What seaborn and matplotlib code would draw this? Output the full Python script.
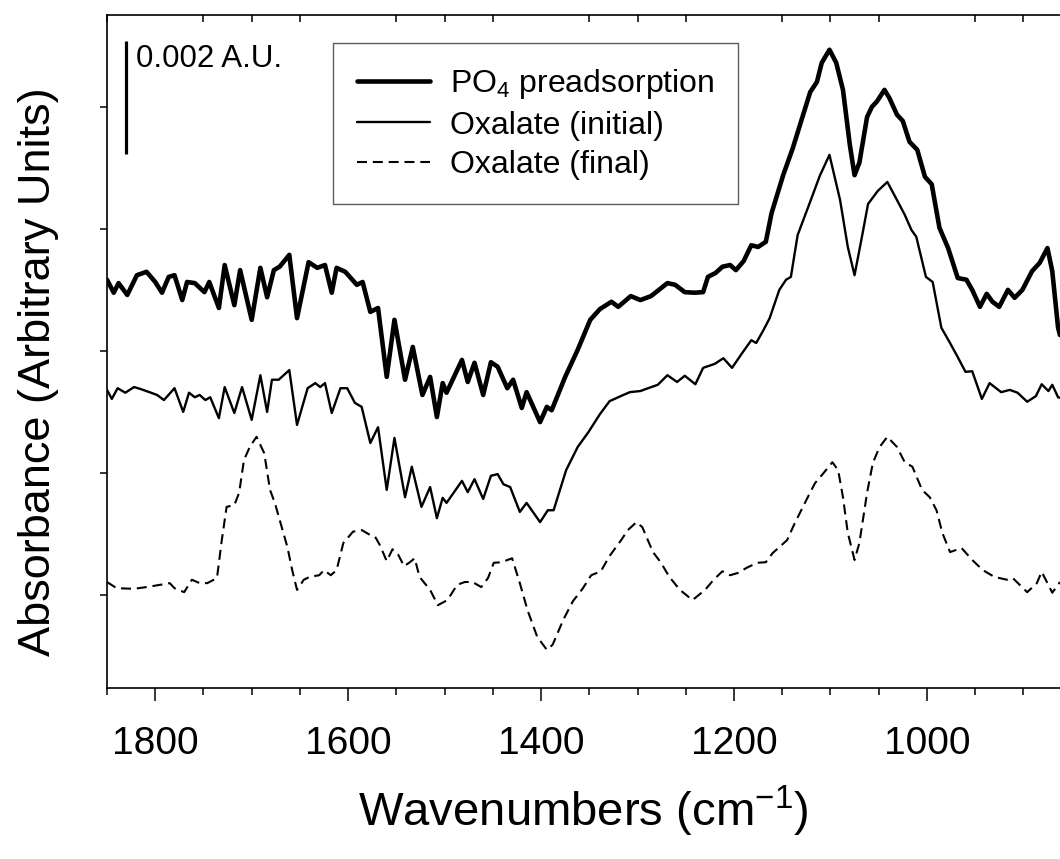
import numpy as np
import pandas as pd
import matplotlib
matplotlib.use("Agg")
import matplotlib.pyplot as plt
from matplotlib import font_manager
from matplotlib.ticker import MultipleLocator, FixedLocator, NullFormatter
import seaborn as sns

# ---------------- data (wavenumber in cm-1, absorbance in mAU) ----------------
po4_wn = [1850, 1843, 1838, 1829, 1819, 1809, 1800, 1793, 1786, 1780, 1772, 1767, 1759, 1749, 1744,
          1734, 1728, 1718, 1712, 1700, 1691, 1684, 1677, 1671, 1661, 1653, 1641, 1632, 1624, 1617,
          1612, 1603, 1591, 1585, 1577, 1569, 1560, 1552, 1541, 1533, 1523, 1515, 1508, 1502, 1498,
          1482, 1476, 1469, 1460, 1452, 1445, 1435, 1429, 1420, 1415, 1401, 1394, 1389, 1375, 1362,
          1349, 1339, 1327, 1320, 1307, 1297, 1286, 1269, 1261, 1251, 1241, 1232, 1227, 1219, 1212,
          1204, 1198, 1190, 1182, 1175, 1167, 1161, 1149, 1139, 1129, 1121, 1114, 1109, 1101, 1094,
          1087, 1080, 1075, 1070, 1062, 1057, 1052, 1044, 1039, 1031, 1025, 1018, 1010, 1002, 995,
          987, 978, 968, 959, 953, 945, 938, 932, 925, 916, 909, 901, 891, 883, 875, 870, 864, 862]
po4_abs = [5.58, 5.35, 5.52, 5.31, 5.66, 5.72, 5.54, 5.35, 5.63, 5.66, 5.22, 5.54, 5.52, 5.36, 5.54,
           5.08, 5.84, 5.13, 5.75, 4.87, 5.79, 5.27, 5.75, 5.81, 6.02, 4.90, 5.89, 5.79, 5.84, 5.35,
           5.79, 5.72, 5.49, 5.54, 5.01, 5.08, 3.86, 4.87, 3.81, 4.39, 3.54, 3.86, 3.15, 3.75, 3.58,
           4.16, 3.77, 4.11, 3.54, 4.12, 4.04, 3.66, 3.81, 3.31, 3.59, 3.06, 3.33, 3.27, 3.86, 4.34,
           4.87, 5.06, 5.19, 5.10, 5.29, 5.22, 5.29, 5.52, 5.49, 5.36, 5.35, 5.36, 5.63, 5.70, 5.81,
           5.84, 5.75, 5.91, 6.19, 6.16, 6.25, 6.76, 7.43, 7.91, 8.46, 8.90, 9.08, 9.42, 9.65, 9.42,
           8.94, 7.98, 7.43, 7.65, 8.46, 8.64, 8.73, 8.94, 8.80, 8.50, 8.39, 8.02, 7.88, 7.40, 7.27,
           6.50, 6.14, 5.61, 5.58, 5.40, 5.10, 5.33, 5.19, 5.10, 5.40, 5.26, 5.40, 5.73, 5.88, 6.14,
           5.73, 4.73, 4.60]

ox_init_wn = [1850, 1845, 1839, 1831, 1822, 1816, 1806, 1798, 1791, 1780, 1771, 1765, 1759, 1754, 1748,
              1743, 1734, 1728, 1718, 1710, 1700, 1691, 1684, 1679, 1672, 1661, 1653, 1642, 1634, 1629,
              1624, 1617, 1608, 1601, 1593, 1586, 1577, 1569, 1560, 1552, 1541, 1534, 1524, 1515, 1508,
              1502, 1498, 1482, 1476, 1469, 1460, 1452, 1445, 1439, 1432, 1422, 1415, 1401, 1393, 1387,
              1374, 1362, 1351, 1339, 1329, 1320, 1308, 1297, 1289, 1279, 1269, 1259, 1251, 1240, 1232,
              1220, 1211, 1202, 1192, 1182, 1177, 1170, 1163, 1153, 1146, 1141, 1134, 1121, 1111, 1101,
              1090, 1082, 1075, 1068, 1061, 1051, 1041, 1031, 1023, 1016, 1011, 1001, 994, 985, 976,
              968, 960, 953, 943, 935, 923, 914, 906, 896, 887, 881, 874, 870, 864, 862]
ox_init_abs = [3.63, 3.47, 3.66, 3.58, 3.68, 3.65, 3.59, 3.54, 3.45, 3.66, 3.24, 3.58, 3.50, 3.54, 3.45,
               3.50, 3.13, 3.68, 3.22, 3.68, 3.10, 3.89, 3.24, 3.81, 3.81, 3.98, 3.01, 3.66, 3.75, 3.68,
               3.75, 3.22, 3.66, 3.66, 3.40, 3.33, 2.69, 2.97, 1.86, 2.78, 1.73, 2.27, 1.56, 1.91, 1.36,
               1.72, 1.63, 2.02, 1.82, 2.05, 1.70, 2.11, 2.14, 1.96, 1.91, 1.47, 1.63, 1.29, 1.50, 1.50,
               2.21, 2.62, 2.88, 3.20, 3.43, 3.50, 3.59, 3.61, 3.66, 3.72, 3.89, 3.77, 3.88, 3.73, 4.02,
               4.09, 4.19, 4.02, 4.27, 4.51, 4.46, 4.67, 4.90, 5.40, 5.58, 5.63, 6.37, 6.96, 7.42, 7.79,
               6.99, 6.16, 5.66, 6.28, 6.92, 7.15, 7.31, 6.99, 6.73, 6.46, 6.34, 5.63, 5.54, 4.73, 4.46,
               4.21, 3.95, 3.96, 3.47, 3.75, 3.59, 3.63, 3.58, 3.42, 3.52, 3.73, 3.61, 3.72, 3.50, 3.49]

ox_final_wn = [1850, 1840, 1822, 1809, 1795, 1785, 1780, 1770, 1762, 1754, 1746, 1736, 1731, 1726, 1718,
               1713, 1708, 1702, 1695, 1687, 1681, 1676, 1671, 1663, 1658, 1653, 1646, 1640, 1630, 1625,
               1618, 1612, 1605, 1595, 1586, 1577, 1572, 1567, 1560, 1554, 1548, 1542, 1536, 1531, 1526,
               1515, 1507, 1497, 1487, 1479, 1471, 1462, 1455, 1449, 1441, 1430, 1422, 1414, 1404, 1394,
               1388, 1377, 1367, 1357, 1348, 1338, 1329, 1317, 1310, 1301, 1295, 1284, 1276, 1267, 1256,
               1243, 1230, 1221, 1212, 1204, 1196, 1187, 1176, 1167, 1160, 1145, 1137, 1125, 1116, 1108,
               1098, 1092, 1087, 1082, 1075, 1070, 1062, 1056, 1049, 1041, 1031, 1023, 1015, 1005, 997,
               990, 984, 976, 964, 953, 942, 930, 917, 911, 896, 886, 881, 875, 870, 862]
ox_final_abs = [0.23, 0.12, 0.11, 0.14, 0.18, 0.21, 0.12, 0.05, 0.27, 0.21, 0.21, 0.30, 0.97, 1.56, 1.59,
                1.81, 2.39, 2.62, 2.80, 2.51, 1.86, 1.63, 1.33, 0.85, 0.44, 0.09, 0.27, 0.32, 0.35, 0.44,
                0.35, 0.44, 0.92, 1.12, 1.15, 1.06, 1.03, 0.88, 0.60, 0.81, 0.71, 0.51, 0.58, 0.65, 0.32,
                0.09, -0.18, -0.09, 0.18, 0.23, 0.23, 0.14, 0.30, 0.57, 0.58, 0.65, 0.21, -0.27, -0.74, -0.97,
                -0.88, -0.44, -0.11, 0.11, 0.35, 0.42, 0.69, 0.97, 1.15, 1.29, 1.20, 0.76, 0.58, 0.32, 0.09,
                -0.09, 0.09, 0.27, 0.42, 0.35, 0.39, 0.48, 0.57, 0.58, 0.74, 0.97, 1.27, 1.68, 1.98, 2.14,
                2.35, 2.21, 1.73, 1.10, 0.62, 0.92, 1.81, 2.34, 2.62, 2.80, 2.62, 2.35, 2.27, 1.86, 1.73,
                1.50, 1.10, 0.76, 0.83, 0.62, 0.44, 0.32, 0.27, 0.30, 0.05, 0.21, 0.41, 0.21, 0.04, 0.23]

series_names = ["PO$_4$ preadsorption", "Oxalate (initial)", "Oxalate (final)"]
scale_bar_mau = 2.0          # 0.002 A.U.
scale_bar_label = "0.002 A.U."
x_major_ticks = [1800, 1600, 1400, 1200, 1000]

# ---------------- style ----------------
sns.set_theme(style="ticks")
available = {f.name for f in font_manager.fontManager.ttflist}
base_font = "Liberation Sans" if "Liberation Sans" in available else "DejaVu Sans"
plt.rcParams["font.family"] = [base_font, "DejaVu Sans"]
plt.rcParams["mathtext.fontset"] = "custom"
plt.rcParams["mathtext.rm"] = base_font
plt.rcParams["mathtext.it"] = base_font
plt.rcParams["mathtext.bf"] = base_font
plt.rcParams["mathtext.sf"] = base_font
for key in ["text.color", "axes.labelcolor", "xtick.color", "ytick.color", "axes.edgecolor"]:
    plt.rcParams[key] = "black"

fig = plt.figure(figsize=(10.60, 8.59), dpi=100)
ax = fig.add_axes([107 / 1060, 1 - 688 / 859, 1 - 107 / 1060, (688 - 15) / 859])

df1 = pd.DataFrame({"wn": po4_wn, "A": po4_abs})
df2 = pd.DataFrame({"wn": ox_init_wn, "A": ox_init_abs})
df3 = pd.DataFrame({"wn": ox_final_wn, "A": ox_final_abs})

sns.lineplot(data=df1, x="wn", y="A", ax=ax, color="black", lw=3.3, estimator=None,
             sort=False, label=series_names[0], solid_joinstyle="round", solid_capstyle="round")
sns.lineplot(data=df2, x="wn", y="A", ax=ax, color="black", lw=1.7, estimator=None,
             sort=False, label=series_names[1], solid_joinstyle="round")
sns.lineplot(data=df3, x="wn", y="A", ax=ax, color="black", lw=1.5, estimator=None,
             sort=False, label=series_names[2], linestyle=(0, (4.8, 2.8)))

ax.set_xlim(1850, 862)
ax.set_ylim(-1.646, 10.265)

# ticks
ax.xaxis.set_major_locator(FixedLocator(x_major_ticks))
ax.xaxis.set_minor_locator(MultipleLocator(50))
ax.yaxis.set_major_locator(FixedLocator([0, 2.159, 4.319, 6.478, 8.637]))
ax.yaxis.set_major_formatter(NullFormatter())
ax.tick_params(axis="x", which="major", direction="out", length=9, width=1.1,
               labelsize=28, pad=18, bottom=True, top=False, colors="black")
ax.tick_params(axis="x", which="minor", direction="out", length=5, width=1.1,
               bottom=True, top=False)
ax.tick_params(axis="y", which="major", direction="out", length=5, width=1.1, left=True, right=False)

# top inward minor ticks (secondary axis)
top = ax.secondary_xaxis("top")
top.xaxis.set_major_locator(FixedLocator([t for t in range(1850, 861, -50) if t % 200 != 0]))
top.xaxis.set_major_formatter(NullFormatter())
top.tick_params(direction="in", length=5, width=1.1)

for side in ["left", "bottom"]:
    ax.spines[side].set_linewidth(1.2)
ax.spines["top"].set_visible(False)
top.spines["top"].set_linewidth(1.2)
ax.spines["right"].set_visible(False)

ax.set_xlabel("Wavenumbers (cm$^{-1}$)", fontsize=34, labelpad=16)
ax.set_ylabel("Absorbance (Arbitrary Units)", fontsize=32.5)
ax.yaxis.set_label_coords(-0.05, 0.47)

# scale bar
bar_x = 1830
bar_top = 9.81
ax.plot([bar_x, bar_x], [bar_top - scale_bar_mau, bar_top], color="black", lw=2.3,
        solid_capstyle="butt")
ax.text(bar_x - 10, bar_top - 0.33, scale_bar_label, fontsize=22.5, va="center", ha="left")

leg = ax.legend(loc="upper left", bbox_to_anchor=((333 - 107) / 953, (688 - 43) / 673),
                borderaxespad=0, fontsize=23, frameon=True, fancybox=False,
                handlelength=2.3, handletextpad=0.6, borderpad=0.75, labelspacing=0.3)
leg.get_frame().set_edgecolor("#333333")
leg.get_frame().set_linewidth(1.0)

fig.savefig("out.png", dpi=100)
